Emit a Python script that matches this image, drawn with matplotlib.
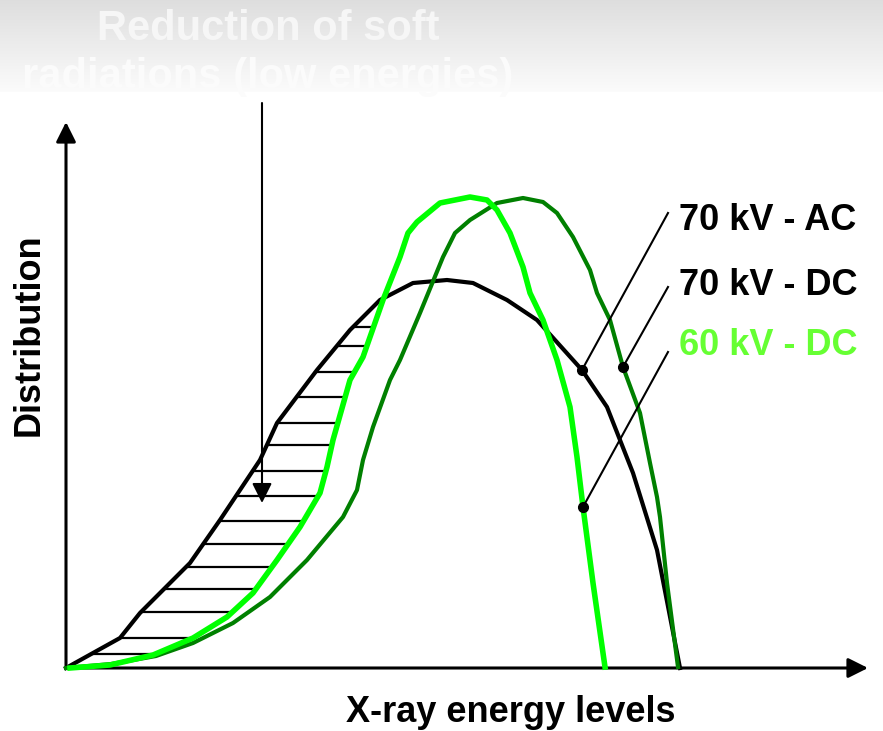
import numpy as np
import matplotlib.pyplot as plt

plt.rcParams['font.family'] = ['Liberation Sans', 'DejaVu Sans']

# curvas (energía en unidades arbitrarias, distribución en unidades arbitrarias)
energy_ac = [0, 54, 74, 107, 124, 154, 194, 211, 251, 284, 314, 347, 381, 407,
             441, 471, 516, 541, 567, 591, 614]
dist_ac = [0, 30, 55, 88, 105, 148, 208, 245, 298, 338, 368, 385, 388, 385,
           368, 348, 298, 261, 195, 118, 0]

energy_dc70 = [0, 45, 90, 127, 167, 204, 241, 277, 291, 297, 307, 324, 334, 354,
               377, 389, 404, 431, 457, 477, 491, 507, 524, 531, 544, 557, 574,
               584, 591, 594, 601, 612]
dist_dc70 = [0, 4, 12, 25, 45, 71, 108, 151, 178, 208, 241, 288, 308, 355,
             411, 435, 448, 465, 470, 466, 455, 431, 398, 375, 348, 301, 255,
             205, 171, 151, 85, 1]

energy_dc60 = [4, 44, 87, 127, 161, 187, 211, 234, 254, 261, 267, 284, 297, 317,
               334, 342, 351, 374, 404, 421, 431, 444, 457, 464, 477, 491, 504,
               511, 517, 527, 539]
dist_dc60 = [0, 3, 13, 30, 51, 75, 108, 141, 175, 201, 228, 288, 311, 368,
             411, 435, 446, 465, 471, 468, 458, 435, 401, 375, 348, 308, 261,
             211, 161, 85, 1]

# niveles del rayado (zona de radiación blanda)
hatch_levels = [341, 322, 296, 271, 245, 223, 197, 172, 147, 124, 101, 79, 56, 30, 14]

labels = ['70 kV - AC', '70 kV - DC', '60 kV - DC']
label_colors = ['black', 'black', '#66ff33']
marker_x = [516, 557, 517]
label_anchor_y = [455, 381, 316]
label_baseline_y = [438, 373, 313]

fig = plt.figure(figsize=(8.83, 7.31), dpi=100)
ax = fig.add_axes([0, 0, 1, 1])

# banda gris degradada arriba
grad = np.linspace(0.87, 0.985, 100).reshape(-1, 1)
grad = np.repeat(grad[:, :, None], 3, axis=2)
ax.imshow(grad, extent=[-66, 817, 668 - 92, 668], aspect='auto', zorder=0)
ax.text(202, 628, 'Reduction of soft', fontsize=30, fontweight='bold',
        color='#f6f6f6', ha='center', va='baseline', zorder=1)
ax.text(202, 580, 'radiations (low energies)', fontsize=30, fontweight='bold',
        color='#fbfbfb', ha='center', va='baseline', zorder=1)

# ejes con flechas
arrow = dict(arrowstyle='-|>,head_length=0.6,head_width=0.3', lw=2.2, color='black',
             mutation_scale=20, shrinkA=0, shrinkB=0)
ax.annotate('', xy=(802, 0), xytext=(0, 0), arrowprops=arrow)
ax.annotate('', xy=(0, 546), xytext=(0, 0), arrowprops=arrow)

# rayado entre la curva AC y la de 60 kV DC
k_ac = int(np.argmax(dist_ac))
k_60 = int(np.argmax(dist_dc60))
for h in hatch_levels:
    x0 = np.interp(h, dist_ac[:k_ac + 1], energy_ac[:k_ac + 1])
    x1 = np.interp(h, dist_dc60[:k_60 + 1], energy_dc60[:k_60 + 1])
    ax.plot([x0, x1], [h, h], color='black', lw=1.6, zorder=2)

ax.plot(energy_ac, dist_ac, color='black', lw=3, solid_joinstyle='round', zorder=3)
ax.plot(energy_dc70, dist_dc70, color='#008000', lw=3, solid_joinstyle='round', zorder=4)
ax.plot(energy_dc60, dist_dc60, color='#00ff00', lw=4, solid_joinstyle='round', zorder=5)

# flecha vertical
ax.annotate('', xy=(196, 165), xytext=(196, 565),
            arrowprops=dict(arrowstyle='-|>,head_length=0.6,head_width=0.3', lw=1.5,
                            color='black', mutation_scale=20, shrinkA=0, shrinkB=0),
            zorder=6)

# etiquetas con líneas guía
curves = [(energy_ac, dist_ac), (energy_dc70, dist_dc70), (energy_dc60, dist_dc60)]
for (ex, dy), mx, ay, by, lab, col in zip(curves, marker_x, label_anchor_y,
                                           label_baseline_y, labels, label_colors):
    my = np.interp(mx, ex, dy)
    ax.plot([mx, 602], [my, ay], color='black', lw=1.5, zorder=7)
    ax.plot(mx, my, 'o', color='black', ms=7, zorder=8)
    ax.text(613, by, lab, fontsize=26, fontweight='bold', color=col,
            ha='left', va='baseline')

ax.text(445, -54, 'X-ray energy levels', fontsize=26, fontweight='bold',
        ha='center', va='baseline')
ax.text(-37, 333, 'Distribution', fontsize=26, fontweight='bold',
        rotation=90, ha='center', va='center')

ax.set_xlim(-66, 817)
ax.set_ylim(-63, 668)
ax.axis('off')

fig.savefig('out.png', dpi=100)
